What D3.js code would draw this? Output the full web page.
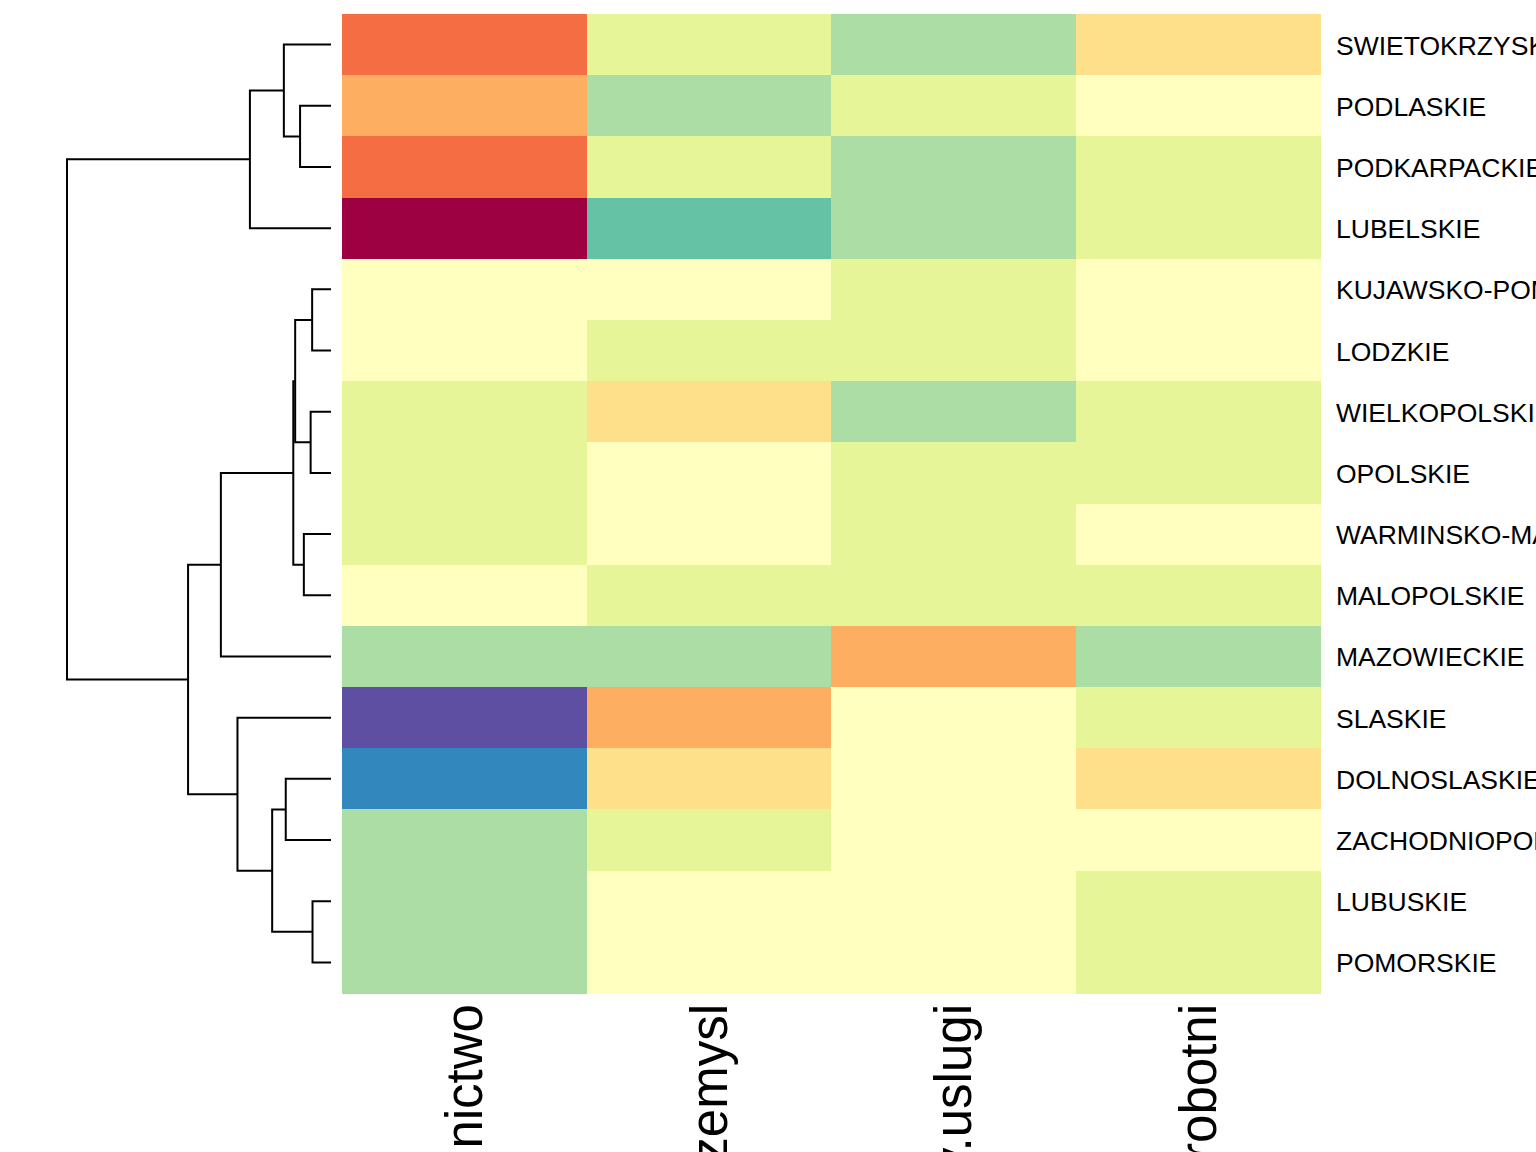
<!DOCTYPE html>
<html>
<head>
<meta charset="utf-8">
<script src="https://cdn.jsdelivr.net/npm/d3@7"></script>
<style>
  html, body { margin: 0; padding: 0; background: #ffffff; overflow: hidden; }
  svg { display: block; }
</style>
</head>
<body>
<svg id="chart" width="1536" height="1152"></svg>
<script>
// ---- data ----
const rows = ["SWIETOKRZYSKIE", "PODLASKIE", "PODKARPACKIE", "LUBELSKIE",
  "KUJAWSKO-POMORSKIE", "LODZKIE", "WIELKOPOLSKIE", "OPOLSKIE",
  "WARMINSKO-MAZURSKIE", "MALOPOLSKIE", "MAZOWIECKIE", "SLASKIE",
  "DOLNOSLASKIE", "ZACHODNIOPOMORSKIE", "LUBUSKIE", "POMORSKIE"];
const columns = ["rolnictwo", "przemysl", "pracujacy.uslugi", "bezrobotni"];
const rolnictwo = [2.05, 1.45, 1.92, 3.05, 0.48, 0.52, -0.15, -0.08, 0.10, 0.44, -0.70, -2.08, -1.45, -0.55, -0.60, -0.66];
const przemysl  = [0.08, -0.55, -0.05, -1.08, 0.55, 0.12, 1.12, 0.38, 0.66, -0.20, -0.42, 1.55, 0.95, 0.03, 0.58, 0.46];
const uslugi    = [-0.45, 0.02, -0.58, -0.38, 0.10, -0.05, -0.62, 0.20, -0.10, 0.14, 1.60, 0.62, 0.50, 0.70, 0.42, 0.66];
const bezrobotni = [1.02, 0.42, -0.12, 0.15, 0.40, 0.60, 0.18, 0.05, 0.35, -0.18, -0.52, 0.22, 0.88, 0.48, -0.02, -0.22];
const seriesValues = [rolnictwo, przemysl, uslugi, bezrobotni];
// dendrogram merges: [top child, bottom child, height]; numbers refer to earlier merges
const merges = [
  ["PODLASKIE", "PODKARPACKIE", 0.82],          // 0
  ["SWIETOKRZYSKIE", 0, 1.25],                  // 1
  [1, "LUBELSKIE", 2.15],                       // 2
  ["KUJAWSKO-POMORSKIE", "LODZKIE", 0.50],      // 3
  ["WIELKOPOLSKIE", "OPOLSKIE", 0.54],          // 4
  [3, 4, 0.95],                                 // 5
  ["WARMINSKO-MAZURSKIE", "MALOPOLSKIE", 0.72], // 6
  [5, 6, 1.00],                                 // 7
  [7, "MAZOWIECKIE", 2.92],                     // 8
  ["DOLNOSLASKIE", "ZACHODNIOPOMORSKIE", 1.20], // 9
  ["LUBUSKIE", "POMORSKIE", 0.49],              // 10
  [9, 10, 1.56],                                // 11
  ["SLASKIE", 11, 2.48],                        // 12
  [8, 12, 3.79],                                // 13
  [2, 13, 7.00]                                 // 14
];
const colorDomain = [-2.25, 3.25];

// ---- layout ----
const svg = d3.select("#chart");
const heat = { x0: 342, x1: 1320, y0: 14, y1: 993 };
const x = d3.scaleBand().domain(columns).range([heat.x0, heat.x1]).padding(0);
const y = d3.scaleBand().domain(rows).range([heat.y0, heat.y1]).padding(0);
const color = d3.scaleQuantize().domain(colorDomain).range(d3.schemeSpectral[11].slice().reverse());

const cells = [];
columns.forEach((c, j) => rows.forEach((r, i) => cells.push({ r, c, v: seriesValues[j][i] })));

svg.append("g").selectAll("rect").data(cells).join("rect")
  .attr("x", d => x(d.c))
  .attr("y", d => y(d.r))
  .attr("width", x.bandwidth() + 0.5)
  .attr("height", y.bandwidth() + 0.5)
  .attr("fill", d => color(d.v))
  .attr("shape-rendering", "crispEdges");

// row labels
svg.append("g").selectAll("text").data(rows).join("text")
  .attr("x", heat.x1 + 16)
  .attr("y", d => y(d) + y.bandwidth() / 2 + 10)
  .attr("font-family", "'Liberation Sans', Arial, Helvetica, sans-serif")
  .attr("font-size", 26.5)
  .attr("fill", "#000")
  .text(d => d);

// column labels
svg.append("g").selectAll("text").data(columns).join("text")
  .attr("transform", d => `translate(${x(d) + x.bandwidth() / 2 + 18},${heat.y1 + 11}) rotate(-90)`)
  .attr("text-anchor", "end")
  .attr("font-family", "'Liberation Sans', Arial, Helvetica, sans-serif")
  .attr("font-size", 51)
  .attr("fill", "#000")
  .text(d => d);

// dendrogram
const hx = d3.scaleLinear().domain([0, 7.0]).range([331, 67]);
const nodes = [];
function pos(ref) {
  if (typeof ref === "string") return { y: y(ref) + y.bandwidth() / 2, h: 0 };
  return nodes[ref];
}
const segs = [];
merges.forEach(([a, b, h]) => {
  const A = pos(a), B = pos(b);
  const xm = hx(h);
  segs.push([[hx(A.h), A.y], [xm, A.y], [xm, B.y], [hx(B.h), B.y]]);
  nodes.push({ y: (A.y + B.y) / 2, h });
});
svg.append("g").selectAll("path").data(segs).join("path")
  .attr("d", d3.line())
  .attr("fill", "none")
  .attr("stroke", "#000")
  .attr("stroke-width", 2);
</script>
</body>
</html>
